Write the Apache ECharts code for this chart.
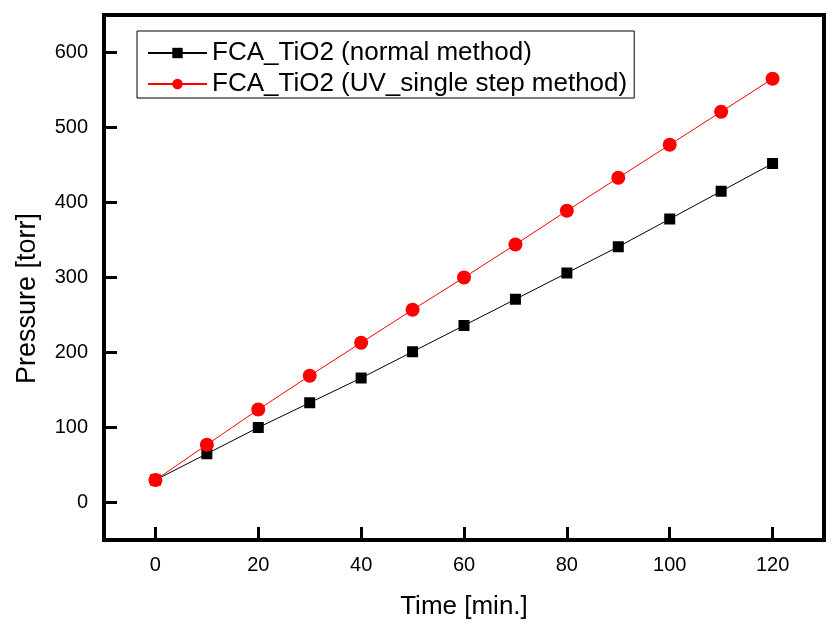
<!DOCTYPE html>
<html><head><meta charset="utf-8">
<script src="https://cdn.jsdelivr.net/npm/echarts@6/dist/echarts.min.js"></script>
<style>html,body{margin:0;padding:0;background:#fff}#c{width:839px;height:626px}</style>
</head><body><div id="c"></div>
<script>
const times = [0,10,20,30,40,50,60,70,80,90,100,110,120];
const normalMethod = [30,65,100,133,166,201,236,271,306,341,378,415,452];
const uvMethod = [30,77,124,169,213,257,300,344,389,433,477,521,565];
const xTicks = [0,20,40,60,80,100,120];
const yTicks = [0,100,200,300,400,500,600];
const seriesNames = ['FCA_TiO2 (normal method)','FCA_TiO2 (UV_single step method)'];

const font = '"Liberation Sans", Arial, sans-serif';
const chart = echarts.init(document.getElementById('c'));
chart.setOption({
  animation:false,
  textStyle:{fontFamily:font},
  grid:{left:104,right:15,top:15,bottom:86,show:true,borderColor:'#000',borderWidth:4,backgroundColor:'transparent'},
  legend:{
    orient:'vertical',left:137,top:31,
    borderColor:'#000',borderWidth:1,padding:[9,7,1,10],
    itemWidth:59,itemHeight:13,itemGap:5,
    textStyle:{fontSize:26,fontFamily:font,color:'#000'},
    data:seriesNames
  },
  xAxis:{
    type:'value',min:-10,max:130,
    name:'Time [min.]',nameLocation:'middle',nameGap:54,
    nameTextStyle:{fontSize:26,color:'#000',fontFamily:font},
    axisLine:{show:false,onZero:false},
    axisTick:{show:true,inside:true,length:13,lineStyle:{color:'#000',width:3},customValues:xTicks},
    axisLabel:{fontSize:20,color:'#000',margin:15,customValues:xTicks,fontFamily:font},
    splitLine:{show:false}
  },
  yAxis:{
    type:'value',min:-50,max:650,
    name:'Pressure [torr]',nameLocation:'middle',nameGap:63,
    nameTextStyle:{fontSize:27,color:'#000',fontFamily:font,padding:[0,42,0,0]},
    axisLine:{show:false,onZero:false},
    axisTick:{show:true,inside:true,length:13,lineStyle:{color:'#000',width:3},customValues:yTicks},
    axisLabel:{fontSize:20,color:'#000',margin:16,customValues:yTicks,fontFamily:font},
    splitLine:{show:false}
  },
  series:[
    {name:seriesNames[0],type:'line',data:times.map((t,i)=>[t,normalMethod[i]]),
     symbol:'rect',symbolSize:11,itemStyle:{color:'#000'},lineStyle:{color:'#000',width:1}},
    {name:seriesNames[1],type:'line',data:times.map((t,i)=>[t,uvMethod[i]]),
     symbol:'circle',symbolSize:14,itemStyle:{color:'#ff0000'},lineStyle:{color:'#ff0000',width:1}}
  ]
});
</script></body></html>
